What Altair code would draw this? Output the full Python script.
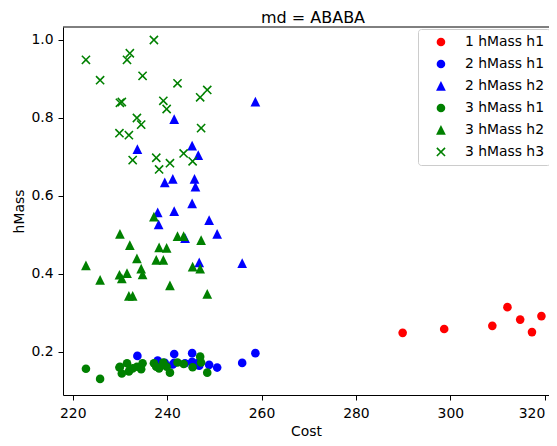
import altair as alt
import pandas as pd

series_names = ["1 hMass h1", "2 hMass h1", "2 hMass h2", "3 hMass h1", "3 hMass h2", "3 hMass h3"]
series_colors = ["#ff0000", "#0000ff", "#0000ff", "#008000", "#008000", "#008000"]
TRI_PATH = "M0,-1.13L1.13,1.13L-1.13,1.13Z"
X_PATH = ("M0,-0.26L0.82,-1.08L1.08,-0.82L0.26,0L1.08,0.82L0.82,1.08L0,0.26"
          "L-0.82,1.08L-1.08,0.82L-0.26,0L-1.08,-0.82L-0.82,-1.08Z")
series_shapes = ["circle", "circle", TRI_PATH, "circle", TRI_PATH, X_PATH]

chart_title = "md = ABABA"
x_ticks = [220, 240, 260, 280, 300, 320]
y_ticks = [0.2, 0.4, 0.6, 0.8, 1.0]

red_cost = [289.9, 298.7, 308.9, 312.1, 314.8, 317.3, 319.3]
red_h1 = [0.249, 0.259, 0.267, 0.315, 0.283, 0.251, 0.292]

blue_cost = [233.7, 238.0, 238.2, 239.5, 241.2, 241.5, 241.5, 243.8, 245.3, 245.3,
             245.8, 246.0, 246.6, 246.8, 248.9, 250.6, 255.9, 258.7]
blue_h1 = [0.190, 0.178, 0.170, 0.172, 0.168, 0.195, 0.172, 0.171, 0.197, 0.175,
           0.170, 0.168, 0.172, 0.165, 0.167, 0.160, 0.172, 0.197]
blue_h2 = [0.720, 0.558, 0.527, 0.635, 0.644, 0.797, 0.561, 0.492, 0.729, 0.581,
           0.644, 0.624, 0.705, 0.430, 0.538, 0.503, 0.428, 0.842]

green_cost = [222.8, 225.8, 229.9, 230.0, 230.4, 231.5, 231.9, 232.1, 232.7, 233.6,
              234.5, 234.8, 237.2, 237.7, 238.3, 239.2, 239.9, 240.6, 242.2, 243.5,
              245.4, 247.0, 247.2, 248.5]
green_h1 = [0.157, 0.131, 0.160, 0.162, 0.145, 0.171, 0.150, 0.155, 0.158, 0.162,
            0.156, 0.171, 0.171, 0.162, 0.158, 0.173, 0.162, 0.147, 0.173, 0.169,
            0.161, 0.188, 0.173, 0.147]
green_h2 = [0.422, 0.385, 0.398, 0.503, 0.389, 0.402, 0.344, 0.474, 0.344, 0.440,
            0.414, 0.399, 0.547, 0.436, 0.468, 0.436, 0.467, 0.371, 0.497, 0.497,
            0.419, 0.414, 0.487, 0.349]
green_h3 = [0.949, 0.897, 0.761, 0.839, 0.841, 0.949, 0.756, 0.966, 0.692, 0.800,
            0.783, 0.908, 1.000, 0.698, 0.668, 0.844, 0.823, 0.684, 0.889, 0.709,
            0.689, 0.853, 0.774, 0.872]

groups = [
    (series_names[0], red_cost, red_h1),
    (series_names[1], blue_cost, blue_h1),
    (series_names[2], blue_cost, blue_h2),
    (series_names[3], green_cost, green_h1),
    (series_names[4], green_cost, green_h2),
    (series_names[5], green_cost, green_h3),
]
rows = []
for name, xs, ys in groups:
    for xv, yv in zip(xs, ys):
        rows.append({"series": name, "cost": xv, "hmass": yv, "idx": len(rows)})
df = pd.DataFrame(rows)

W, H = 486, 368
PX_PER_COST = 4.72
X_MIN = 217.94
Y_MIN = 0.0897
PX_PER_HMASS = 390.0
FONT = "DejaVu Sans"
MSIZE = 74

legend = alt.Legend(
    title=None, orient="none", legendX=355, legendY=2,
    padding=6, rowPadding=7, symbolSize=MSIZE, symbolStrokeWidth=0,
    symbolOffset=10, labelOffset=17,
    labelFontSize=13.9, labelFont=FONT, labelColor="black", labelLimit=300,
    strokeColor="#cccccc", fillColor="white", cornerRadius=3,
)

points = alt.Chart(df).mark_point(filled=True, opacity=1, size=MSIZE, strokeWidth=0).encode(
    x=alt.X("cost:Q",
            scale=alt.Scale(domain=[X_MIN, X_MIN + W / PX_PER_COST], nice=False, zero=False),
            axis=alt.Axis(values=x_ticks, format="d", title="Cost", labelFlush=6,
                          titleY=40, titleBaseline="alphabetic", labelPadding=6)),
    y=alt.Y("hmass:Q",
            scale=alt.Scale(domain=[Y_MIN, Y_MIN + H / PX_PER_HMASS], nice=False, zero=False),
            axis=alt.Axis(values=y_ticks, format=".1f", title="hMass",
                          titleX=-40, titleY=H / 2, titleAngle=270,
                          titleBaseline="alphabetic", titleAlign="center", labelPadding=5)),
    color=alt.Color("series:N", scale=alt.Scale(domain=series_names, range=series_colors), legend=legend),
    shape=alt.Shape("series:N", scale=alt.Scale(domain=series_names, range=series_shapes), legend=legend),
    order="idx:Q",
)

frame_top = alt.Chart(pd.DataFrame({"a": [0]})).mark_rule(color="black", strokeWidth=1).encode(
    x=alt.value(0), x2=alt.value(W), y=alt.value(0)
)

title_text = alt.Chart(pd.DataFrame({"t": [chart_title]})).mark_text(
    font=FONT, fontSize=16, color="black", align="center", baseline="alphabetic"
).encode(x=alt.value(250), y=alt.value(-4.5), text="t:N")

chart = alt.layer(points, frame_top, title_text).properties(
    width=W, height=H,
    autosize=alt.AutoSizeParams(type="none"),
    padding={"left": 55, "top": 19, "right": 0, "bottom": 43},
).configure_view(stroke=None).configure_axis(
    grid=False, domainColor="black", domainWidth=1, tickColor="black", tickWidth=1,
    tickSize=5, labelFont=FONT, labelFontSize=13.9, labelColor="black",
    titleFont=FONT, titleFontSize=13.9, titleFontWeight="normal", titleColor="black",
)

chart.save("out.html", embed_options={"renderer": "svg", "actions": False})
